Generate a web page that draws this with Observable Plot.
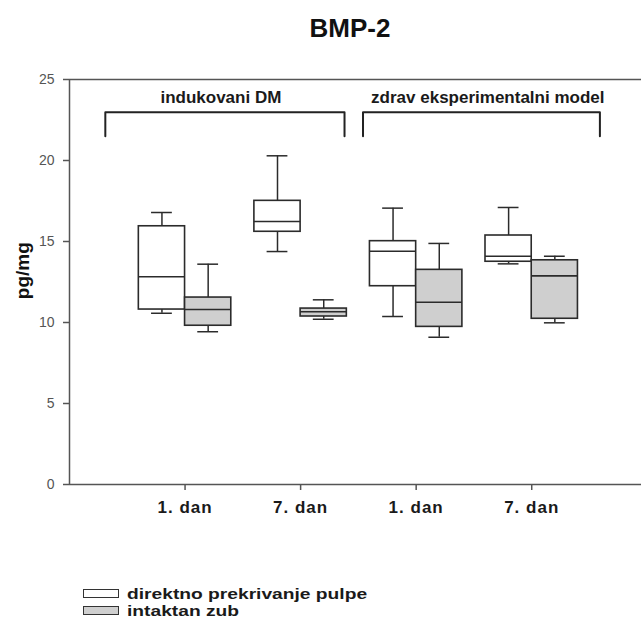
<!DOCTYPE html>
<html>
<head>
<meta charset="utf-8">
<script src="https://cdn.jsdelivr.net/npm/d3@7"></script>
<script src="https://cdn.jsdelivr.net/npm/@observablehq/plot@0.6"></script>
<style>
  body { margin: 0; background: #fff; font-family: "Liberation Sans", Arial, Helvetica, sans-serif; }
  #wrap { width: 641px; }
  #title { height: 50px; position: relative; }
  #title span { position: absolute; left: 250px; width: 200px; top: 15px; text-align: center;
    font-size: 26px; line-height: 26px; font-weight: bold; color: #111; }
  #legend { height: 50px; padding-top: 15px; box-sizing: border-box; }
  .row { display: flex; align-items: center; height: 17px; }
  .sw { width: 34px; height: 7px; border: 1.5px solid #333; margin-left: 83px; flex: none; }
  .lt { margin-left: 8px; font-size: 15px; line-height: 15px; font-weight: bold; color: #1a1a1a;
    transform: scaleX(1.28); transform-origin: left center; white-space: nowrap; }
</style>
</head>
<body>
<div id="wrap">
  <div id="title"><span>BMP-2</span></div>
  <div id="chart"></div>
  <div id="legend"></div>
</div>
<script>
// ---- data ----
const groups = ["indukovani DM", "zdrav eksperimentalni model"];
const days = ["1. dan", "7. dan"];
const series = ["direktno prekrivanje pulpe", "intaktan zub"];
// order: [DM 1.dan white, DM 1.dan gray, DM 7.dan white, DM 7.dan gray, zdrav 1.dan white, zdrav 1.dan gray, zdrav 7.dan white, zdrav 7.dan gray]
const whiskerLow  = [10.57,  9.43, 14.38, 10.20, 10.37,  9.09, 13.62,  9.98];
const q1          = [10.80,  9.80, 15.60, 10.37, 12.24,  9.73, 13.75, 10.23];
const median      = [12.82, 10.80, 16.23, 10.66, 14.40, 11.25, 14.09, 12.88];
const q3          = [15.94, 11.54, 17.51, 10.86, 15.02, 13.25, 15.37, 13.84];
const whiskerHigh = [16.79, 13.60, 20.29, 11.40, 17.06, 14.88, 17.10, 14.09];
const yTicks = [0, 5, 10, 15, 20, 25];

// ---- build table ----
const rows = whiskerLow.map((_, i) => {
  const g = Math.floor(i / 4), d = Math.floor(i / 2) % 2, s = i % 2;
  return {
    group: groups[g], day: days[d], series: series[s],
    pos: g * 2 + d + 1, s,
    lo: whiskerLow[i], q1: q1[i], med: median[i], q3: q3[i], hi: whiskerHigh[i]
  };
});
const BW = 0.4, CAP = 0.09;
const left = r => r.pos - BW + r.s * BW;
const right = r => r.pos + r.s * BW;
const mid = r => r.pos - BW / 2 + r.s * BW;

const brackets = [
  {g: groups[0], x1: 0.31, x2: 2.38, lx: 1.31},
  {g: groups[1], x1: 2.54, x2: 4.59, lx: 3.62}
];
const bracketPts = brackets.flatMap(b => [
  {g: b.g, x: b.x1, y: 21.5}, {g: b.g, x: b.x1, y: 22.98},
  {g: b.g, x: b.x2, y: 22.98}, {g: b.g, x: b.x2, y: 21.5}
]);

const ink = "#2b2b2b";
const chart = Plot.plot({
  width: 641, height: 520,
  marginTop: 29, marginLeft: 69, marginRight: 0, marginBottom: 86,
  x: {domain: [0, 4.95], axis: null},
  y: {domain: [0, 25], axis: null},
  color: {domain: series, range: ["#ffffff", "#cfcfcf"]},
  style: {fontFamily: "'Liberation Sans', Arial, sans-serif", background: "#fff", overflow: "visible"},
  marks: [
    Plot.ruleY([25], {stroke: "#555", strokeWidth: 1.5}),
    Plot.ruleX([0], {stroke: "#555", strokeWidth: 1.5}),
    Plot.ruleY([0], {stroke: "#555", strokeWidth: 1.5}),
    Plot.axisY({ticks: yTicks, tickSize: 6, tickPadding: 9, fontSize: 14, stroke: "#555", fill: "#555", strokeWidth: 1.5, label: null}),
    Plot.axisX({ticks: [1, 2, 3, 4], tickFormat: d => days[(d - 1) % 2], tickSize: 6, tickPadding: 10,
      fontSize: 17, fontWeight: "bold", fill: "#1a1a1a", stroke: "#555", strokeWidth: 1.5, label: null}),
    // whiskers
    Plot.ruleX(rows, {x: mid, y1: "lo", y2: "q1", stroke: ink, strokeWidth: 1.5}),
    Plot.ruleX(rows, {x: mid, y1: "q3", y2: "hi", stroke: ink, strokeWidth: 1.5}),
    Plot.ruleY(rows, {y: "lo", x1: r => mid(r) - CAP, x2: r => mid(r) + CAP, stroke: ink, strokeWidth: 1.5}),
    Plot.ruleY(rows, {y: "hi", x1: r => mid(r) - CAP, x2: r => mid(r) + CAP, stroke: ink, strokeWidth: 1.5}),
    // boxes
    Plot.rect(rows, {x1: left, x2: right, y1: "q1", y2: "q3", fill: "series", stroke: ink, strokeWidth: 1.6}),
    Plot.ruleY(rows, {y: "med", x1: left, x2: right, stroke: ink, strokeWidth: 1.6}),
    // brackets
    Plot.line(bracketPts, {x: "x", y: "y", z: "g", stroke: "#222", strokeWidth: 2}),
    Plot.text(brackets, {x: "lx", y: 23.87, text: "g",
      fontSize: 17, fontWeight: "bold", fill: "#1a1a1a", lineAnchor: "middle", ariaLabel: "group label"}),
    // y label
    Plot.text(["pg/mg"], {x: -0.406, y: 13.2, rotate: -90, text: d => d,
      fontSize: 19, fontWeight: "bold", fill: "#111", ariaLabel: "y label"})
  ]
});
document.getElementById("chart").appendChild(chart);
d3.select(chart).selectAll("g[aria-label='x-axis tick label'] text, g[aria-label='group label'] text")
  .style("letter-spacing", "1px");

// legend
const leg = d3.select("#legend");
series.forEach((s, i) => {
  const row = leg.append("div").attr("class", "row");
  row.append("div").attr("class", "sw").style("background", ["#ffffff", "#cfcfcf"][i]);
  row.append("div").attr("class", "lt").text(s);
});
</script>
</body>
</html>
